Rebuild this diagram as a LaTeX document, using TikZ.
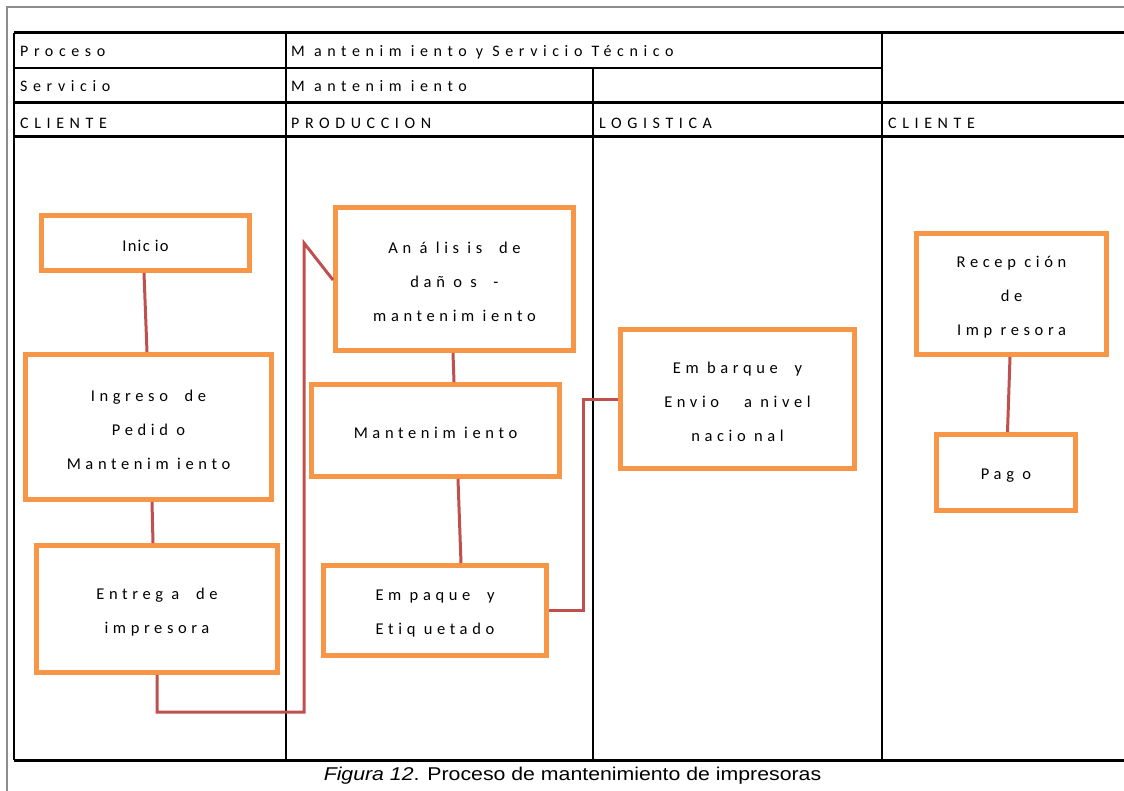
\documentclass[tikz,border=0pt]{standalone}
\usepackage{fontspec}
\usepackage{graphicx}
\setmainfont{Carlito}
\newfontfamily\hdrfont[LetterSpace=35,Ligatures=NoCommon]{Carlito}
\newfontfamily\boxfont[LetterSpace=28,Ligatures=NoCommon]{Carlito}
\newfontfamily\boxfontn[LetterSpace=8,Ligatures=NoCommon]{Carlito}
\newfontfamily\capfont{Liberation Sans}
\newcommand\boxstrut{\rule{0pt}{17pt}}
\definecolor{boxorange}{HTML}{F79646}
\definecolor{linkred}{HTML}{C0504D}
\definecolor{framegray}{HTML}{8C8C8C}
\begin{document}
\begin{tikzpicture}[x=1pt,y=-1pt,
  thickrule/.style={black, line width=3pt},
  thinrule/.style={black, line width=1.5pt},
  hdr/.style={anchor=base west, inner sep=0pt, font=\hdrfont\fontsize{16}{18}\selectfont},
  stepbox/.style={draw=boxorange, line width=5pt, fill=white, align=center, inner sep=0pt,
    font=\boxfont\fontsize{16.5}{34}\selectfont},
  link/.style={draw=linkred, line width=3pt}
]
\useasboundingbox (0,0) rectangle (1124,791);
% outer frame
\draw[framegray, line width=1.2pt] (7,791) -- (7,7) -- (1124,7);
% table lines
\draw[thinrule] (14,33) -- (14,760);
\draw[thinrule] (286,33) -- (286,760);
\draw[thinrule] (593,68) -- (593,760);
\draw[thinrule] (882,33) -- (882,760);
\draw[thinrule] (14,68) -- (882,68);
\draw[thickrule] (14,33) -- (1124,33);
\draw[thickrule] (14,103) -- (1124,103);
\draw[thickrule] (14,137) -- (1124,137);
\draw[thickrule] (14,760) -- (1124,760);
% header texts
\node[hdr] (h1) at (20,57) {Proceso};
\node[hdr] (h2) at (291,57) {M antenim iento y Servicio Técnico};
\node[hdr] (h3) at (20,92) {Servicio};
\node[hdr] (h4) at (291,92) {M antenim iento};
\node[hdr] (h5) at (20,129) {CLIENTE};
\node[hdr] (h6) at (291,129) {PRODUCCION};
\node[hdr] (h7) at (599,129) {LOGISTICA};
\node[hdr] (h8) at (888,129) {CLIENTE};
% connectors' free points
\coordinate (c1) at (304,712);
\coordinate (c2) at (304,243);
\coordinate (k1) at (583,399);
% boxes
\node[stepbox, minimum width=208, minimum height=55, font=\boxfontn\fontsize{16.5}{34}\selectfont] (inicio) at (145.5,243) {\boxstrut Inic io};
\node[stepbox, minimum width=246, minimum height=145] (ingreso) at (148.5,427) {\boxstrut Ingreso \ de\\Pedid o\\Mantenim iento};
\node[stepbox, minimum width=241, minimum height=127] (entrega) at (157,609) {\boxstrut Entreg a \ de\\impresora};
\node[stepbox, minimum width=238, minimum height=143] (analisis) at (454.5,279) {\boxstrut An á lis is \ de\\dañ o s \ -\\mantenim iento};
\node[stepbox, minimum width=248, minimum height=92] (mant) at (435.5,430.5) {\boxstrut Mantenim iento};
\node[stepbox, minimum width=223, minimum height=90] (empaque) at (435,610.5) {\boxstrut Em paque \ y\\Etiq uetado};
\node[stepbox, minimum width=234, minimum height=139] (embarque) at (737.5,399) {\boxstrut Em barque \ y\\Envio \ \ a nivel\\nacio nal};
\node[stepbox, minimum width=190, minimum height=121] (recepcion) at (1011.5,294) {\boxstrut Recep ción\\de\\Imp resora};
\node[stepbox, minimum width=139, minimum height=76] (pago) at (1006,472.5) {\boxstrut Pag o};
% connectors
\draw[link] ([xshift=-1.5pt]inicio.south) -- ([xshift=-1.5pt]ingreso.north);
\draw[link] ([xshift=3.5pt]ingreso.south) -- ([xshift=-4pt]entrega.north);
\draw[link, line join=miter] (entrega.south) |- (c1) -- (c2) -- ([yshift=-1pt]analisis.west);
\draw[link] ([xshift=-1.5pt]analisis.south) -- ([xshift=18.5pt]mant.north);
\draw[link] ([xshift=22.5pt]mant.south) -- ([xshift=26pt]empaque.north);
\draw[link, line join=miter] (empaque.east) -| (k1) -- (embarque.west);
\draw[link] ([xshift=-1.5pt]recepcion.south) -- ([xshift=1.5pt]pago.north);
% caption
\node[inner sep=0pt, font=\capfont\fontsize{18.5}{20}\selectfont] (caption) at (572.5,776)
  {\scalebox{1.15}[1]{\textit{Figura 12}. Proceso de mantenimiento de impresoras}};
\end{tikzpicture}
\end{document}
